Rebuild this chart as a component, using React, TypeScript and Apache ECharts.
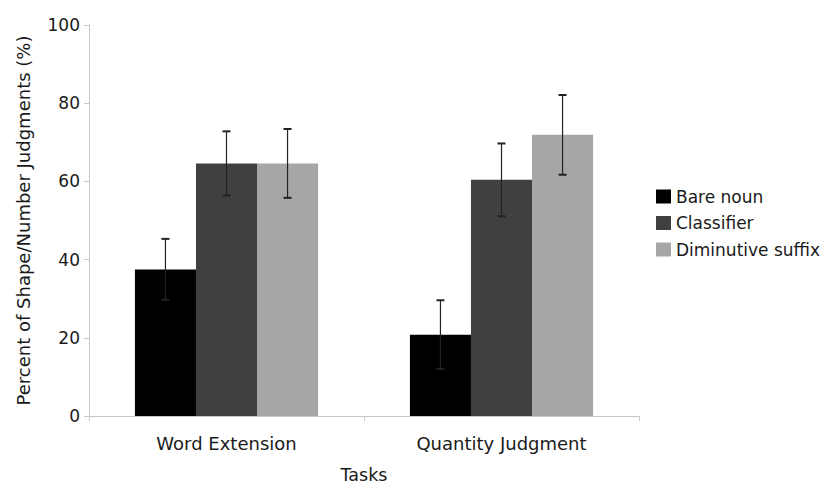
import React, { useEffect, useRef } from "react";
import * as echarts from "echarts";

const categories = ["Word Extension", "Quantity Judgment"];
const seriesNames = ["Bare noun", "Classifier", "Diminutive suffix"];
const bareNoun = [37.5, 20.8];
const classifier = [64.6, 60.4];
const diminutive = [64.6, 71.9];
const bareNounErr = [7.8, 8.8];
const classifierErr = [8.2, 9.3];
const diminutiveErr = [8.8, 10.2];
const yTicks = [0, 20, 40, 60, 80, 100];

const colors = ["#000000", "#404040", "#a6a6a6"];
const FONT = "DejaVu Sans, Liberation Sans, Arial, sans-serif";

export default function App() {
  const ref = useRef<HTMLDivElement>(null);
  useEffect(() => {
    if (!ref.current) return;
    const chart = echarts.init(ref.current, undefined, { renderer: "svg" });
    const values = [bareNoun, classifier, diminutive];
    const errs = [bareNounErr, classifierErr, diminutiveErr];
    const barFrac = 0.222;
    const barSeries = values.map((v, i) => ({
      name: seriesNames[i],
      type: "bar",
      data: v,
      barWidth: "22.2%",
      barGap: "0%",
      itemStyle: { color: colors[i] },
      z: 2,
    }));
    const errSeries = values.map((v, i) => ({
      name: seriesNames[i] + " err",
      type: "custom",
      data: v.map((val, j) => [j, val - errs[i][j], val + errs[i][j]]),
      z: 5,
      renderItem: (params: any, api: any) => {
        const cat = api.value(0);
        const lo = api.coord([cat, api.value(1)]);
        const hi = api.coord([cat, api.value(2)]);
        const band = api.size([1, 0])[0];
        const x = lo[0] + (i - 1) * band * barFrac;
        const cap = 4;
        const stroke = "#222222";
        return {
          type: "group",
          children: [
            { type: "line", shape: { x1: x, y1: lo[1], x2: x, y2: hi[1] }, style: { stroke, lineWidth: 1.2 } },
            { type: "line", shape: { x1: x - cap, y1: hi[1], x2: x + cap, y2: hi[1] }, style: { stroke, lineWidth: 2 } },
            { type: "line", shape: { x1: x - cap, y1: lo[1], x2: x + cap, y2: lo[1] }, style: { stroke, lineWidth: 2 } },
          ],
        };
      },
    }));
    chart.setOption({
      animation: false,
      textStyle: { fontFamily: FONT },
      grid: { left: 89, right: 184, top: 25, bottom: 68, containLabel: false },
      legend: {
        data: seriesNames,
        orient: "vertical",
        left: 656,
        top: 188,
        padding: 0,
        icon: "rect",
        itemWidth: 15,
        itemHeight: 14,
        itemGap: 9.5,
        textStyle: { fontSize: 17, color: "#1a1a1a", fontFamily: FONT },
      },
      xAxis: {
        type: "category",
        data: categories,
        name: "Tasks",
        nameLocation: "middle",
        nameGap: 50,
        nameTextStyle: { fontSize: 17.5, color: "#1a1a1a", fontFamily: FONT },
        axisLine: { lineStyle: { color: "#c8c8c8" } },
        axisTick: { show: true, length: 5, lineStyle: { color: "#c8c8c8" } },
        axisLabel: { fontSize: 18, color: "#1a1a1a", margin: 18, fontFamily: FONT },
      },
      yAxis: {
        type: "value",
        min: 0,
        max: 100,
        interval: 20,
        name: "Percent of Shape/Number Judgments (%)",
        nameLocation: "middle",
        nameGap: 57,
        nameTextStyle: { fontSize: 18, color: "#1a1a1a", fontFamily: FONT },
        axisLine: { show: true, lineStyle: { color: "#c8c8c8" } },
        axisTick: { show: true, length: 5, lineStyle: { color: "#c8c8c8" } },
        splitLine: { show: false },
        axisLabel: {
          fontSize: 17,
          color: "#1a1a1a",
          margin: 9,
          fontFamily: FONT,
          formatter: (v: number) => (yTicks.includes(v) ? String(v) : ""),
        },
      },
      series: [...barSeries, ...errSeries],
    });
    return () => chart.dispose();
  }, []);
  return <div ref={ref} style={{ width: 823, height: 489, position: "absolute", left: 0, top: 0 }} />;
}
